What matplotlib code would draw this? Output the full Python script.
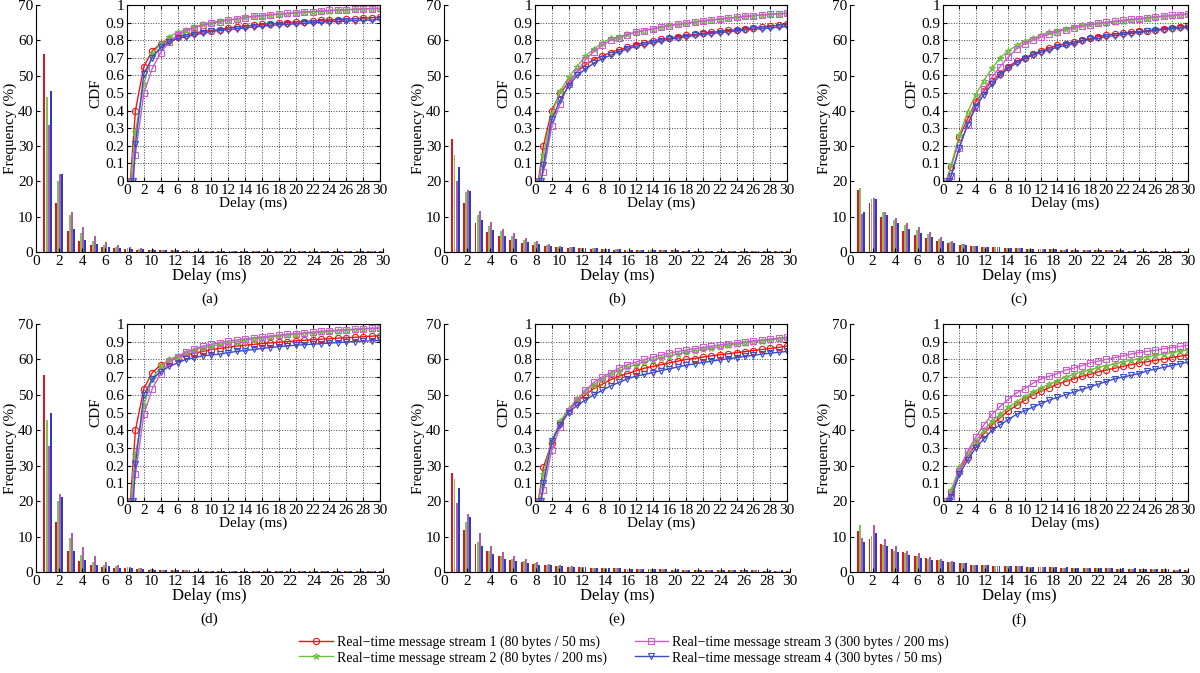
import matplotlib
matplotlib.use("Agg")
import matplotlib.pyplot as plt
import numpy as np

plt.rcParams.update({
    "font.family": ["Liberation Serif", "DejaVu Serif"],
    "font.size": 10,
    "axes.linewidth": 0.8,
    "xtick.direction": "in",
    "ytick.direction": "in",
    "xtick.major.size": 3,
    "ytick.major.size": 3,
    "xtick.major.pad": 2,
    "ytick.major.pad": 2,
})

# ---- data ----
DELAY_BINS = list(range(1, 31))
CDF_DELAYS = list(range(1, 31))
CDF_START = [0.4, 0.45, 0.55, 0.75]   # delay where each CDF starts at 0

STREAM_LABELS = [
    "Real\u2212time message stream 1 (80 bytes / 50 ms)",
    "Real\u2212time message stream 2 (80 bytes / 200 ms)",
    "Real\u2212time message stream 3 (300 bytes / 200 ms)",
    "Real\u2212time message stream 4 (300 bytes / 50 ms)",
]
PANEL_LABELS = ["(a)", "(b)", "(c)", "(d)", "(e)", "(f)"]

# histogram frequency (%) per stream, bins 1..30
FREQ_A = [
    [56, 14, 6, 3, 2, 1.3, 1.0, 0.9, 0.7, 0.6, 0.5, 0.45, 0.4, 0.35, 0.3, 0.3, 0.28, 0.26, 0.25, 0.24,
     0.22, 0.21, 0.2, 0.19, 0.18, 0.17, 0.17, 0.16, 0.15, 0.15],
    [44, 20, 10.5, 5.3, 3.2, 2.0, 1.5, 1.2, 0.9, 0.7, 0.6, 0.5, 0.4, 0.35, 0.32, 0.3, 0.28, 0.26, 0.25, 0.24,
     0.22, 0.21, 0.2, 0.19, 0.18, 0.17, 0.17, 0.16, 0.15, 0.15],
    [36, 22, 11.3, 7.0, 4.5, 2.8, 2.0, 1.4, 1.1, 0.8, 0.7, 0.6, 0.45, 0.4, 0.35, 0.32, 0.3, 0.28, 0.26, 0.25,
     0.23, 0.22, 0.21, 0.2, 0.19, 0.18, 0.17, 0.16, 0.16, 0.15],
    [45.5, 22, 6.5, 3.3, 2.2, 1.5, 1.1, 0.9, 0.8, 0.6, 0.5, 0.45, 0.4, 0.36, 0.33, 0.3, 0.28, 0.27, 0.26, 0.25,
     0.24, 0.23, 0.22, 0.21, 0.2, 0.19, 0.18, 0.18, 0.17, 0.17],
]
FREQ_B = [
    [32, 13.8, 8.1, 5.6, 4.4, 3.3, 2.6, 2.1, 1.6, 1.3, 1.2, 1.0, 0.9, 0.8, 0.7, 0.65, 0.6, 0.55, 0.5, 0.45,
     0.4, 0.38, 0.35, 0.33, 0.3, 0.28, 0.26, 0.25, 0.23, 0.22],
    [27.5, 17, 10.5, 7.3, 6.0, 4.5, 3.5, 2.7, 2.0, 1.5, 1.3, 1.1, 1.0, 0.85, 0.75, 0.7, 0.6, 0.55, 0.5, 0.45,
     0.42, 0.4, 0.37, 0.34, 0.32, 0.3, 0.28, 0.26, 0.25, 0.24],
    [20, 17.7, 11.6, 8.4, 6.6, 5.3, 4.0, 3.1, 2.3, 1.6, 1.4, 1.1, 1.0, 0.9, 0.8, 0.7, 0.62, 0.56, 0.5, 0.46,
     0.42, 0.4, 0.37, 0.34, 0.32, 0.3, 0.28, 0.26, 0.25, 0.24],
    [24, 17.3, 9.0, 6.2, 4.6, 3.6, 2.9, 2.3, 1.8, 1.5, 1.3, 1.1, 1.0, 0.85, 0.78, 0.7, 0.63, 0.58, 0.53, 0.48,
     0.44, 0.41, 0.38, 0.36, 0.34, 0.32, 0.3, 0.28, 0.27, 0.26],
]
FREQ_C = [
    [17.5, 13.8, 9.8, 7.4, 6.0, 4.8, 3.9, 3.1, 2.5, 2.0, 1.7, 1.5, 1.3, 1.1, 1.0, 0.9, 0.8, 0.75, 0.7, 0.6,
     0.55, 0.5, 0.47, 0.44, 0.4, 0.38, 0.35, 0.33, 0.31, 0.3],
    [18, 15, 11.2, 9.0, 7.6, 6.2, 5.0, 3.8, 2.8, 2.2, 1.7, 1.5, 1.3, 1.2, 1.0, 0.9, 0.8, 0.75, 0.7, 0.62,
     0.57, 0.52, 0.48, 0.45, 0.42, 0.39, 0.36, 0.34, 0.32, 0.3],
    [10.8, 15.3, 11.3, 9.6, 8.2, 7.0, 5.6, 4.3, 3.2, 2.3, 1.8, 1.5, 1.3, 1.2, 1.0, 0.9, 0.8, 0.75, 0.7, 0.62,
     0.57, 0.52, 0.48, 0.45, 0.42, 0.39, 0.36, 0.34, 0.32, 0.3],
    [11.2, 15.0, 10.6, 8.1, 6.4, 5.3, 4.2, 3.2, 2.6, 2.1, 1.7, 1.5, 1.3, 1.2, 1.0, 0.9, 0.85, 0.8, 0.72, 0.65,
     0.6, 0.55, 0.5, 0.47, 0.44, 0.41, 0.38, 0.36, 0.34, 0.32],
]
FREQ_D = [
    [55.5, 14, 5.8, 3.2, 2.1, 1.5, 1.2, 1.0, 0.8, 0.7, 0.6, 0.5, 0.45, 0.4, 0.35, 0.32, 0.3, 0.28, 0.26, 0.25,
     0.23, 0.22, 0.21, 0.2, 0.19, 0.18, 0.17, 0.17, 0.16, 0.15],
    [43, 20, 9.5, 4.8, 2.8, 2.0, 1.6, 1.3, 1.0, 0.8, 0.7, 0.6, 0.5, 0.42, 0.37, 0.33, 0.3, 0.28, 0.26, 0.25,
     0.23, 0.22, 0.21, 0.2, 0.19, 0.18, 0.17, 0.17, 0.16, 0.15],
    [35.5, 22, 11, 7.0, 4.5, 2.7, 1.9, 1.3, 1.1, 0.9, 0.7, 0.6, 0.5, 0.42, 0.37, 0.33, 0.3, 0.28, 0.26, 0.25,
     0.23, 0.22, 0.21, 0.2, 0.19, 0.18, 0.17, 0.17, 0.16, 0.15],
    [44.8, 21.3, 6.0, 3.3, 2.1, 1.6, 1.2, 1.0, 0.8, 0.7, 0.6, 0.52, 0.46, 0.42, 0.38, 0.35, 0.32, 0.3, 0.28, 0.27,
     0.26, 0.25, 0.24, 0.23, 0.22, 0.21, 0.2, 0.19, 0.18, 0.18],
]
FREQ_E = [
    [28, 11.8, 7.8, 5.8, 4.4, 3.5, 2.8, 2.3, 2.0, 1.7, 1.5, 1.3, 1.2, 1.1, 1.0, 0.9, 0.85, 0.8, 0.75, 0.7,
     0.65, 0.6, 0.55, 0.52, 0.5, 0.47, 0.45, 0.42, 0.4, 0.38],
    [26.3, 14.2, 8.5, 6.0, 4.6, 3.7, 3.0, 2.5, 2.0, 1.8, 1.5, 1.3, 1.2, 1.1, 1.0, 0.9, 0.85, 0.8, 0.75, 0.7,
     0.65, 0.6, 0.55, 0.52, 0.5, 0.47, 0.45, 0.42, 0.4, 0.38],
    [19.5, 16.3, 10.9, 7.4, 5.7, 4.5, 3.6, 2.8, 2.3, 1.9, 1.6, 1.4, 1.2, 1.1, 1.0, 0.9, 0.85, 0.8, 0.75, 0.7,
     0.65, 0.6, 0.55, 0.52, 0.5, 0.47, 0.45, 0.42, 0.4, 0.38],
    [23.8, 15.6, 7.4, 5.0, 3.8, 3.1, 2.6, 2.1, 1.9, 1.7, 1.5, 1.3, 1.2, 1.1, 1.0, 0.95, 0.9, 0.85, 0.8, 0.75,
     0.7, 0.65, 0.6, 0.57, 0.55, 0.52, 0.5, 0.47, 0.45, 0.43],
]
FREQ_F = [
    [11.5, 9.3, 7.8, 6.4, 5.6, 4.5, 3.9, 3.3, 2.9, 2.5, 2.1, 2.0, 1.8, 1.7, 1.6, 1.5, 1.4, 1.3, 1.25, 1.2,
     1.1, 1.05, 1.0, 0.95, 0.9, 0.85, 0.8, 0.75, 0.7, 0.68],
    [13.3, 10.3, 7.6, 5.9, 5.5, 4.5, 3.8, 3.4, 2.9, 2.5, 2.1, 2.0, 1.8, 1.7, 1.6, 1.5, 1.4, 1.3, 1.25, 1.2,
     1.1, 1.05, 1.0, 0.95, 0.9, 0.85, 0.8, 0.75, 0.7, 0.68],
    [9.7, 13.4, 9.3, 7.2, 6.0, 5.3, 4.3, 3.7, 3.0, 2.6, 2.1, 2.0, 1.8, 1.7, 1.6, 1.5, 1.4, 1.3, 1.25, 1.2,
     1.1, 1.05, 1.0, 0.95, 0.9, 0.85, 0.8, 0.75, 0.7, 0.68],
    [8.5, 11.0, 7.4, 5.7, 4.7, 3.9, 3.5, 3.1, 2.7, 2.4, 2.1, 2.0, 1.8, 1.7, 1.6, 1.5, 1.4, 1.35, 1.3, 1.25,
     1.2, 1.15, 1.1, 1.05, 1.0, 0.95, 0.9, 0.85, 0.8, 0.78],
]

# CDF per stream at delays 1..30 (value at CDF_START is 0)
CDF_A = [
    [0.40, 0.65, 0.74, 0.78, 0.80, 0.82, 0.83, 0.84, 0.85, 0.855, 0.86, 0.87, 0.875, 0.88, 0.885, 0.89, 0.893,
     0.896, 0.90, 0.903, 0.906, 0.909, 0.912, 0.914, 0.917, 0.92, 0.922, 0.925, 0.928, 0.93],
    [0.28, 0.55, 0.72, 0.78, 0.82, 0.845, 0.86, 0.875, 0.89, 0.90, 0.91, 0.915, 0.92, 0.93, 0.935, 0.94, 0.943,
     0.947, 0.95, 0.955, 0.958, 0.961, 0.964, 0.967, 0.97, 0.972, 0.975, 0.977, 0.979, 0.98],
    [0.15, 0.50, 0.64, 0.73, 0.79, 0.83, 0.855, 0.87, 0.885, 0.895, 0.905, 0.915, 0.92, 0.928, 0.935, 0.94,
     0.945, 0.95, 0.953, 0.957, 0.96, 0.963, 0.966, 0.969, 0.972, 0.974, 0.976, 0.978, 0.98, 0.982],
    [0.21, 0.61, 0.70, 0.76, 0.79, 0.81, 0.82, 0.83, 0.84, 0.85, 0.855, 0.86, 0.865, 0.87, 0.875, 0.88, 0.884,
     0.888, 0.89, 0.893, 0.896, 0.899, 0.902, 0.905, 0.907, 0.909, 0.911, 0.913, 0.915, 0.918],
]
CDF_B = [
    [0.20, 0.40, 0.50, 0.56, 0.62, 0.66, 0.69, 0.71, 0.73, 0.745, 0.76, 0.775, 0.785, 0.795, 0.805, 0.812,
     0.82, 0.827, 0.833, 0.84, 0.845, 0.85, 0.856, 0.86, 0.865, 0.87, 0.875, 0.88, 0.885, 0.89],
    [0.15, 0.38, 0.51, 0.59, 0.65, 0.71, 0.75, 0.785, 0.81, 0.82, 0.835, 0.845, 0.855, 0.865, 0.875, 0.885,
     0.89, 0.897, 0.903, 0.91, 0.915, 0.92, 0.925, 0.93, 0.935, 0.94, 0.943, 0.947, 0.95, 0.953],
    [0.05, 0.31, 0.44, 0.55, 0.62, 0.69, 0.735, 0.77, 0.80, 0.815, 0.83, 0.845, 0.855, 0.865, 0.875, 0.883,
     0.89, 0.897, 0.903, 0.91, 0.915, 0.92, 0.925, 0.93, 0.935, 0.94, 0.943, 0.947, 0.95, 0.953],
    [0.09, 0.35, 0.46, 0.54, 0.60, 0.635, 0.67, 0.695, 0.715, 0.735, 0.75, 0.765, 0.775, 0.785, 0.795, 0.805,
     0.812, 0.82, 0.827, 0.833, 0.838, 0.843, 0.848, 0.853, 0.858, 0.862, 0.866, 0.87, 0.874, 0.878],
]
CDF_C = [
    [0.08, 0.25, 0.35, 0.45, 0.51, 0.57, 0.61, 0.65, 0.68, 0.70, 0.72, 0.74, 0.755, 0.77, 0.78, 0.79, 0.80,
     0.81, 0.82, 0.83, 0.835, 0.84, 0.845, 0.85, 0.855, 0.86, 0.865, 0.87, 0.875, 0.88],
    [0.09, 0.26, 0.39, 0.49, 0.57, 0.64, 0.70, 0.74, 0.77, 0.795, 0.81, 0.83, 0.845, 0.855, 0.865, 0.875,
     0.885, 0.89, 0.895, 0.90, 0.905, 0.91, 0.915, 0.92, 0.925, 0.93, 0.935, 0.94, 0.945, 0.95],
    [0.03, 0.19, 0.32, 0.42, 0.52, 0.59, 0.65, 0.705, 0.75, 0.78, 0.80, 0.82, 0.835, 0.848, 0.86, 0.87, 0.88,
     0.888, 0.895, 0.902, 0.908, 0.913, 0.918, 0.923, 0.928, 0.933, 0.937, 0.941, 0.945, 0.948],
    [0.03, 0.19, 0.32, 0.42, 0.49, 0.55, 0.60, 0.64, 0.67, 0.695, 0.715, 0.73, 0.745, 0.76, 0.77, 0.78, 0.795,
     0.805, 0.81, 0.82, 0.826, 0.832, 0.838, 0.844, 0.85, 0.855, 0.86, 0.865, 0.868, 0.872],
]
CDF_D = [
    [0.40, 0.635, 0.725, 0.77, 0.79, 0.81, 0.825, 0.835, 0.845, 0.855, 0.862, 0.868, 0.875, 0.88, 0.885, 0.89,
     0.893, 0.897, 0.90, 0.905, 0.908, 0.911, 0.914, 0.917, 0.92, 0.922, 0.925, 0.928, 0.931, 0.934],
    [0.26, 0.54, 0.69, 0.76, 0.80, 0.82, 0.84, 0.855, 0.865, 0.875, 0.885, 0.893, 0.90, 0.907, 0.915, 0.92,
     0.926, 0.932, 0.937, 0.942, 0.946, 0.95, 0.954, 0.958, 0.962, 0.965, 0.968, 0.971, 0.974, 0.976],
    [0.15, 0.49, 0.635, 0.72, 0.785, 0.815, 0.84, 0.86, 0.875, 0.885, 0.895, 0.903, 0.91, 0.917, 0.922, 0.927,
     0.932, 0.937, 0.942, 0.946, 0.95, 0.954, 0.958, 0.962, 0.965, 0.968, 0.971, 0.974, 0.976, 0.978],
    [0.21, 0.60, 0.69, 0.73, 0.76, 0.78, 0.80, 0.81, 0.82, 0.825, 0.83, 0.838, 0.845, 0.85, 0.856, 0.862,
     0.867, 0.872, 0.876, 0.88, 0.883, 0.886, 0.889, 0.892, 0.895, 0.898, 0.901, 0.903, 0.905, 0.907],
]
CDF_E = [
    [0.19, 0.33, 0.44, 0.51, 0.56, 0.60, 0.635, 0.66, 0.685, 0.705, 0.72, 0.735, 0.75, 0.76, 0.77, 0.78, 0.79,
     0.80, 0.805, 0.813, 0.82, 0.826, 0.832, 0.838, 0.844, 0.85, 0.856, 0.862, 0.868, 0.875],
    [0.15, 0.34, 0.45, 0.52, 0.575, 0.62, 0.655, 0.69, 0.715, 0.735, 0.755, 0.77, 0.785, 0.797, 0.81, 0.82,
     0.83, 0.84, 0.848, 0.856, 0.864, 0.872, 0.879, 0.886, 0.893, 0.9, 0.905, 0.91, 0.915, 0.92],
    [0.06, 0.29, 0.42, 0.51, 0.57, 0.625, 0.67, 0.70, 0.725, 0.75, 0.77, 0.785, 0.80, 0.812, 0.824, 0.835,
     0.845, 0.853, 0.861, 0.868, 0.875, 0.882, 0.888, 0.894, 0.9, 0.905, 0.91, 0.915, 0.92, 0.925],
    [0.10, 0.34, 0.43, 0.50, 0.54, 0.57, 0.60, 0.625, 0.65, 0.67, 0.69, 0.705, 0.715, 0.725, 0.737, 0.747,
     0.757, 0.767, 0.775, 0.783, 0.79, 0.797, 0.804, 0.81, 0.817, 0.823, 0.83, 0.835, 0.84, 0.845],
]
CDF_F = [
    [0.05, 0.17, 0.25, 0.32, 0.38, 0.43, 0.47, 0.51, 0.54, 0.57, 0.60, 0.62, 0.64, 0.66, 0.675, 0.69, 0.705,
     0.715, 0.73, 0.74, 0.75, 0.76, 0.77, 0.78, 0.787, 0.795, 0.802, 0.81, 0.818, 0.825],
    [0.06, 0.19, 0.27, 0.34, 0.40, 0.45, 0.49, 0.53, 0.56, 0.59, 0.615, 0.64, 0.66, 0.68, 0.70, 0.715, 0.73,
     0.74, 0.755, 0.765, 0.775, 0.785, 0.795, 0.805, 0.815, 0.823, 0.83, 0.838, 0.845, 0.855],
    [0.03, 0.17, 0.28, 0.36, 0.43, 0.49, 0.535, 0.575, 0.61, 0.635, 0.665, 0.69, 0.705, 0.72, 0.74, 0.75,
     0.765, 0.78, 0.79, 0.80, 0.81, 0.82, 0.83, 0.838, 0.845, 0.852, 0.86, 0.867, 0.873, 0.88],
    [0.02, 0.15, 0.23, 0.30, 0.35, 0.40, 0.43, 0.46, 0.49, 0.51, 0.53, 0.55, 0.57, 0.585, 0.60, 0.615, 0.63,
     0.645, 0.66, 0.675, 0.69, 0.70, 0.71, 0.72, 0.735, 0.745, 0.755, 0.765, 0.775, 0.785],
]

FREQS = [FREQ_A, FREQ_B, FREQ_C, FREQ_D, FREQ_E, FREQ_F]
CDFS = [CDF_A, CDF_B, CDF_C, CDF_D, CDF_E, CDF_F]

BAR_COLORS = ["#e0141e", "#7cc45a", "#b45ab4", "#2a3cc4"]
LINE_COLORS = ["#f01414", "#6cc040", "#cc5ccc", "#3a4cc8"]
MARKERS = ["o", "*", "s", "v"]

# layout in pixels (left, right) and (top, bottom) of 1200x673 canvas
W, H = 1200, 673
MAIN_X = [(36, 383), (444, 790), (850, 1188)]
INSET_X = [(127, 380), (535, 787), (943, 1188)]
MAIN_Y = [(5, 252), (324, 572)]
INSET_Y = [(5, 181), (324, 501)]


def rect(xr, yr):
    return [xr[0] / W, 1 - yr[1] / H, (xr[1] - xr[0]) / W, (yr[1] - yr[0]) / H]


fig = plt.figure(figsize=(12, 6.73), dpi=100)
offsets = [-0.27, -0.09, 0.09, 0.27]
bins = np.array(DELAY_BINS)

handles = []
for p in range(6):
    row, col = divmod(p, 3)
    ax = fig.add_axes(rect(MAIN_X[col], MAIN_Y[row]))
    for s in range(4):
        ax.bar(bins + offsets[s], FREQS[p][s], width=0.17, color=BAR_COLORS[s], linewidth=0)
    ax.set_xlim(0, 30)
    ax.set_ylim(0, 70)
    ax.set_xticks(range(0, 31, 2))
    ax.set_yticks(range(0, 71, 10))
    ax.spines["top"].set_visible(False)
    ax.spines["right"].set_visible(False)
    ax.tick_params(labelsize=11)
    ax.set_ylabel("Frequency (%)", fontsize=11, labelpad=1)
    ax.set_xlabel("Delay (ms)", fontsize=12, labelpad=0)
    ax.text(0.5, -0.165, PANEL_LABELS[p], transform=ax.transAxes, ha="center", va="top", fontsize=11)

    ins = fig.add_axes(rect(INSET_X[col], INSET_Y[row]))
    for s in range(4):
        xs = [CDF_START[s]] + CDF_DELAYS
        ys = [0] + CDFS[p][s]
        ln, = ins.plot(xs, ys, color=LINE_COLORS[s], marker=MARKERS[s], markersize=4.5,
                       markerfacecolor="none", markeredgewidth=0.8, linewidth=1.0,
                       label=STREAM_LABELS[s])
        if p == 0:
            handles.append(ln)
    ins.set_xlim(0, 30)
    ins.set_ylim(0, 1)
    ins.set_xticks(range(0, 31, 2))
    ins.set_yticks(np.arange(0, 1.01, 0.1))
    ins.set_yticklabels(["0"] + [f"{v:.1f}" for v in np.arange(0.1, 0.95, 0.1)] + ["1"])
    ins.grid(True, linestyle=":", color="#444444", linewidth=0.7)
    ins.tick_params(labelsize=11, top=True, right=True)
    ins.set_ylabel("CDF", fontsize=11, labelpad=2)
    ins.set_xlabel("Delay (ms)", fontsize=11, labelpad=0)

# two columns: streams 1-2 on the left, 3-4 on the right
fig.legend(handles=handles, labels=STREAM_LABELS,
           loc="center", bbox_to_anchor=(0.52, 1 - 650 / H), ncol=2, frameon=False,
           fontsize=10, handlelength=2.4, handletextpad=0.3, columnspacing=2.0,
           labelspacing=0.15)

fig.savefig("out.png", dpi=100)
